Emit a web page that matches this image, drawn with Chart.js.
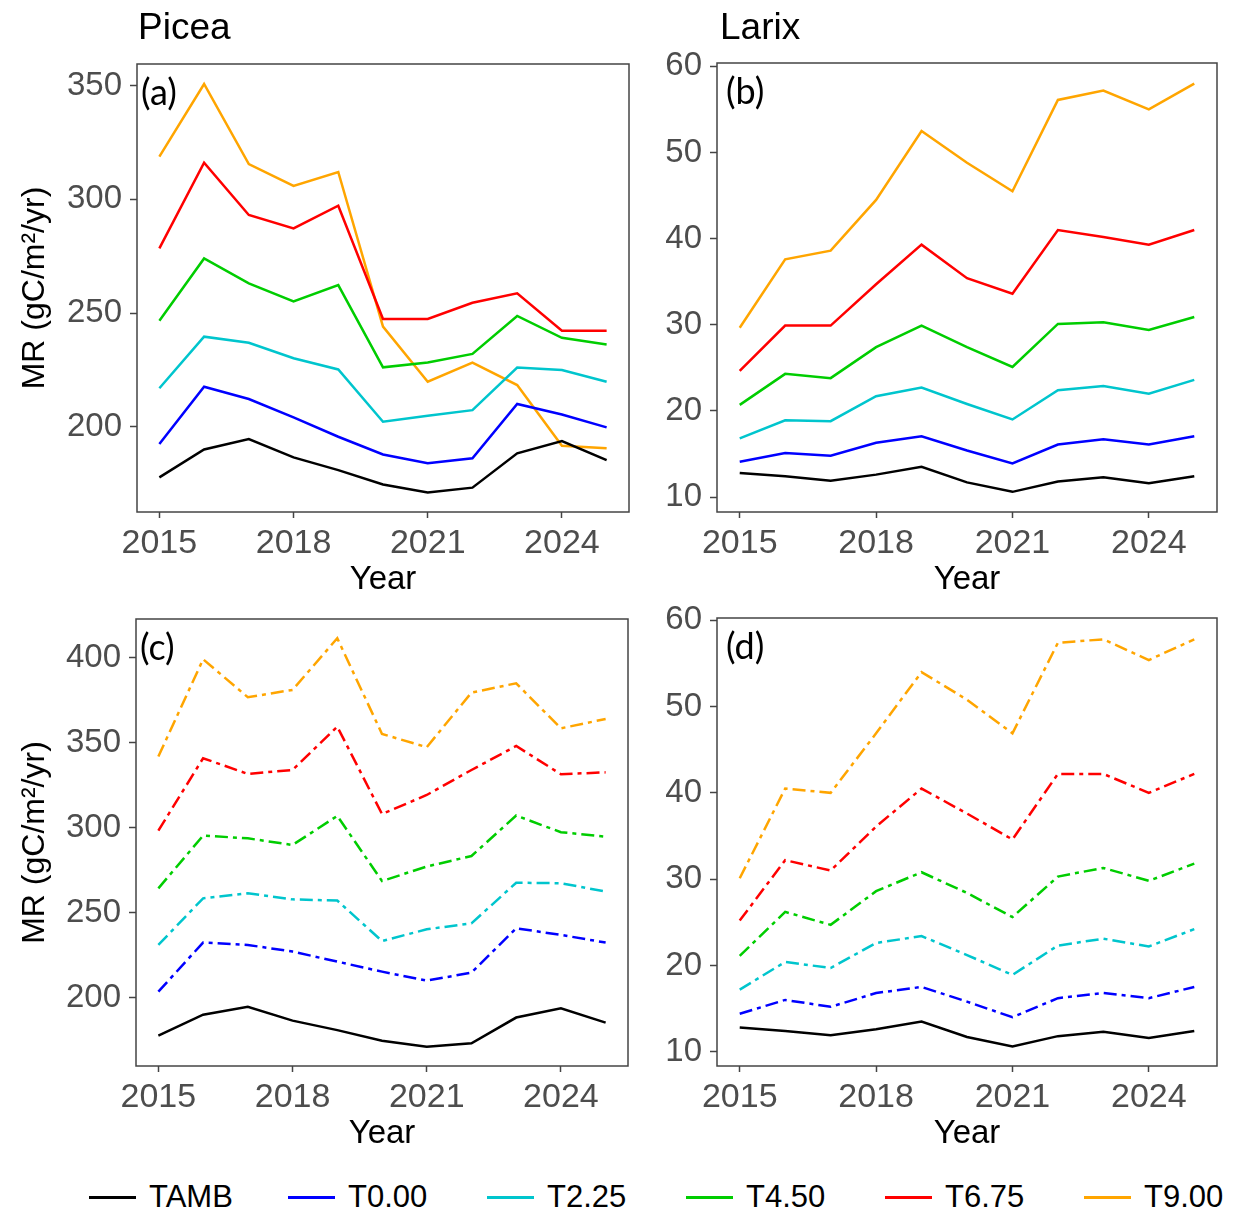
<!DOCTYPE html>
<html>
<head>
<meta charset="utf-8">
<script src="https://cdn.jsdelivr.net/npm/chart.js@4.4.1/dist/chart.umd.min.js"></script>
<style>
  body { margin: 0; background: #fff; width: 1233px; height: 1216px; position: relative; overflow: hidden; font-family: 'Liberation Sans', Arial, sans-serif; }
  canvas { position: absolute; }
  #legend { position: absolute; left: 89px; top: 1178px; display: flex; }
  .item { width: 199px; display: flex; align-items: center; height: 38px; }
  .swatch { width: 47px; height: 3px; margin-right: 13px; }
  .item span { font-size: 31px; color: #000; }
</style>
</head>
<body>
<canvas id="chartA" width="640" height="600" style="left:0;top:0"></canvas>
<canvas id="chartB" width="593" height="600" style="left:640px;top:0"></canvas>
<canvas id="chartC" width="640" height="594" style="left:0;top:560px"></canvas>
<canvas id="chartD" width="593" height="594" style="left:640px;top:560px"></canvas>
<div id="legend"></div>
<script>
// years and treatments
const years = [2015, 2016, 2017, 2018, 2019, 2020, 2021, 2022, 2023, 2024, 2025];
const xTicks = [2015, 2018, 2021, 2024];
const treatments = ['TAMB', 'T0.00', 'T2.25', 'T4.50', 'T6.75', 'T9.00'];
const colors = ['#000000', '#0000FF', '#00C5CD', '#00CD00', '#FF0000', '#FFA500'];

// (a) Picea
const piceaTAMB = [177.7, 190.0, 194.6, 186.5, 180.9, 174.6, 171.1, 173.2, 188.3, 193.7, 185.3];
const piceaA_T000 = [192.4, 217.6, 212.2, 204.1, 195.6, 187.8, 183.9, 186.1, 210.0, 205.4, 199.7];
const piceaA_T225 = [216.9, 239.6, 236.9, 230.1, 225.2, 202.2, 204.8, 207.3, 226.0, 224.9, 219.8];
const piceaA_T450 = [246.6, 274.0, 263.0, 255.1, 262.3, 226.1, 228.2, 232.0, 248.7, 239.1, 236.2];
const piceaA_T675 = [278.4, 316.1, 293.1, 287.2, 297.2, 247.4, 247.4, 254.5, 258.7, 242.2, 242.2];
const piceaA_T900 = [318.8, 350.7, 315.5, 305.9, 312.0, 244.0, 219.8, 228.2, 218.3, 191.6, 190.5];

// (b) Larix
const larixTAMB = [12.8, 12.4, 11.9, 12.6, 13.5, 11.7, 10.6, 11.8, 12.3, 11.6, 12.4];
const larixB_T000 = [14.1, 15.1, 14.8, 16.3, 17.05, 15.4, 13.9, 16.1, 16.7, 16.1, 17.05];
const larixB_T225 = [16.8, 18.9, 18.8, 21.7, 22.7, 20.8, 19.0, 22.4, 22.9, 22.0, 23.6];
const larixB_T450 = [20.7, 24.3, 23.8, 27.4, 29.9, 27.4, 25.1, 30.1, 30.3, 29.4, 30.9];
const larixB_T675 = [24.65, 29.9, 29.9, 34.7, 39.3, 35.4, 33.6, 41.0, 40.2, 39.3, 41.0];
const larixB_T900 = [29.65, 37.6, 38.6, 44.5, 52.5, 48.8, 45.5, 56.1, 57.2, 55.0, 58.0];

// (c) Picea
const piceaC_T000 = [203.5, 232.4, 231.0, 227.1, 221.2, 215.3, 210.0, 214.7, 240.8, 236.9, 232.4];
const piceaC_T225 = [231.0, 258.4, 261.4, 257.8, 257.1, 233.3, 240.2, 243.7, 267.6, 267.3, 262.4];
const piceaC_T450 = [264.3, 295.3, 293.7, 289.8, 306.9, 268.6, 277.1, 283.3, 307.1, 297.3, 294.7];
const piceaC_T675 = [298.2, 340.8, 331.6, 333.9, 359.4, 308.0, 319.2, 333.9, 348.0, 331.4, 332.5];
const piceaC_T900 = [341.8, 399.0, 376.7, 381.0, 411.4, 355.1, 347.3, 379.4, 384.9, 358.4, 363.9];

// (d) Larix
const larixD_T000 = [14.4, 16.0, 15.2, 16.8, 17.5, 15.8, 14.0, 16.2, 16.8, 16.2, 17.5];
const larixD_T225 = [17.2, 20.4, 19.7, 22.6, 23.4, 21.2, 18.9, 22.3, 23.1, 22.2, 24.2];
const larixD_T450 = [21.1, 26.2, 24.7, 28.6, 30.8, 28.4, 25.6, 30.3, 31.3, 29.8, 31.8];
const larixD_T675 = [25.2, 32.2, 31.0, 36.1, 40.5, 37.6, 34.6, 42.2, 42.2, 40.0, 42.2];
const larixD_T900 = [30.1, 40.5, 40.0, 46.9, 54.0, 50.8, 46.9, 57.4, 57.8, 55.4, 57.8];

const piceaTicks = [200, 250, 300, 350];
const piceaTicksC = [200, 250, 300, 350, 400];
const larixTicks = [10, 20, 30, 40, 50, 60];

const dashPattern = [13, 5, 4, 5];

const panels = [
  { id: 'chartA', tag: '(a)', title: 'Picea', titleY: 39, yTitle: true, yWidth: 137, padTop: 64, padRight: 11,
    yMin: 162.5, yMax: 359.5, ticks: piceaTicks, dashed: false, tagDx: 4, titleDx: 1,
    series: [piceaTAMB, piceaA_T000, piceaA_T225, piceaA_T450, piceaA_T675, piceaA_T900] },
  { id: 'chartB', tag: '(b)', title: 'Larix', titleY: 39, yTitle: false, yWidth: 77, padTop: 63, padRight: 16,
    yMin: 8.26, yMax: 60.39, ticks: larixTicks, dashed: false, tagDx: 9, titleDx: 3,
    series: [larixTAMB, larixB_T000, larixB_T225, larixB_T450, larixB_T675, larixB_T900] },
  { id: 'chartC', tag: '(c)', title: null, yTitle: true, yWidth: 136, padTop: 59, padRight: 12,
    yMin: 159.8, yMax: 422.7, ticks: piceaTicksC, dashed: true, tagDx: 4, titleDx: 0,
    series: [piceaTAMB, piceaC_T000, piceaC_T225, piceaC_T450, piceaC_T675, piceaC_T900] },
  { id: 'chartD', tag: '(d)', title: null, yTitle: false, yWidth: 77, padTop: 58, padRight: 16,
    yMin: 8.34, yMax: 60.27, ticks: larixTicks, dashed: true, tagDx: 9, titleDx: 0,
    series: [larixTAMB, larixD_T000, larixD_T225, larixD_T450, larixD_T675, larixD_T900] }
];

const axisFont = "'Liberation Sans', Arial, sans-serif";

// panel border, tag and species title
const framePlugin = {
  id: 'frame',
  afterDraw(chart, args, opts) {
    const { ctx, chartArea: a } = chart;
    ctx.save();
    ctx.strokeStyle = '#444444';
    ctx.lineWidth = 1.5;
    ctx.strokeRect(a.left, a.top, a.right - a.left, a.bottom - a.top);
    ctx.fillStyle = '#000';
    ctx.font = '36px Lato';
    ctx.textBaseline = 'middle';
    ctx.textAlign = 'left';
    ctx.fillText(opts.tag, a.left + opts.tagDx, a.top + 29);
    if (opts.title) {
      ctx.font = '37px "Liberation Sans"';
      ctx.textBaseline = 'alphabetic';
      ctx.fillText(opts.title, a.left + opts.titleDx, opts.titleY);
    }
    ctx.restore();
  }
};

panels.forEach(p => {
  const datasets = p.series.map((vals, i) => ({
    label: treatments[i],
    data: vals.map((v, k) => ({ x: years[k], y: v })),
    borderColor: colors[i],
    borderWidth: 2.5,
    borderDash: (p.dashed && i > 0) ? dashPattern : [],
    pointRadius: 0,
    fill: false,
    tension: 0
  }));

  new Chart(document.getElementById(p.id), {
    type: 'line',
    data: { datasets: datasets },
    plugins: [framePlugin],
    options: {
      responsive: false,
      animation: false,
      layout: { padding: { top: p.padTop, right: p.padRight, left: 0, bottom: 0 } },
      plugins: {
        legend: { display: false },
        tooltip: { enabled: false },
        frame: { tag: p.tag, title: p.title, titleY: p.titleY, tagDx: p.tagDx, titleDx: p.titleDx }
      },
      scales: {
        x: {
          type: 'linear',
          min: 2014.5,
          max: 2025.5,
          afterBuildTicks: s => { s.ticks = xTicks.map(v => ({ value: v })); },
          afterFit: s => { s.height = 88; },
          grid: { drawOnChartArea: false, drawTicks: true, tickLength: 6, tickColor: '#444444', tickWidth: 1.5 },
          border: { display: false },
          ticks: {
            color: '#4D4D4D',
            padding: 5,
            maxRotation: 0,
            font: { family: axisFont, size: 34 },
            callback: v => String(v)
          },
          title: {
            display: true,
            text: 'Year',
            color: '#000',
            padding: { top: 0, bottom: 4 },
            font: { family: axisFont, size: 33, lineHeight: 1 }
          }
        },
        y: {
          min: p.yMin,
          max: p.yMax,
          afterBuildTicks: s => { s.ticks = p.ticks.map(v => ({ value: v })); },
          afterFit: s => { s.width = p.yWidth; },
          grid: { drawOnChartArea: false, drawTicks: true, tickLength: 7, tickColor: '#444444', tickWidth: 1.5 },
          border: { display: false },
          ticks: {
            color: '#4D4D4D',
            padding: 8,
            font: { family: axisFont, size: 33 }
          },
          title: {
            display: p.yTitle,
            text: 'MR (gC/m²/yr)',
            color: '#000',
            padding: { top: 19, bottom: 0 },
            font: { family: axisFont, size: 32, lineHeight: 1 }
          }
        }
      }
    }
  });
});

// shared legend
const legend = document.getElementById('legend');
treatments.forEach((name, i) => {
  const item = document.createElement('div');
  item.className = 'item';
  const sw = document.createElement('div');
  sw.className = 'swatch';
  sw.style.background = colors[i];
  const label = document.createElement('span');
  label.textContent = name;
  item.appendChild(sw);
  item.appendChild(label);
  legend.appendChild(item);
});
</script>
</body>
</html>
